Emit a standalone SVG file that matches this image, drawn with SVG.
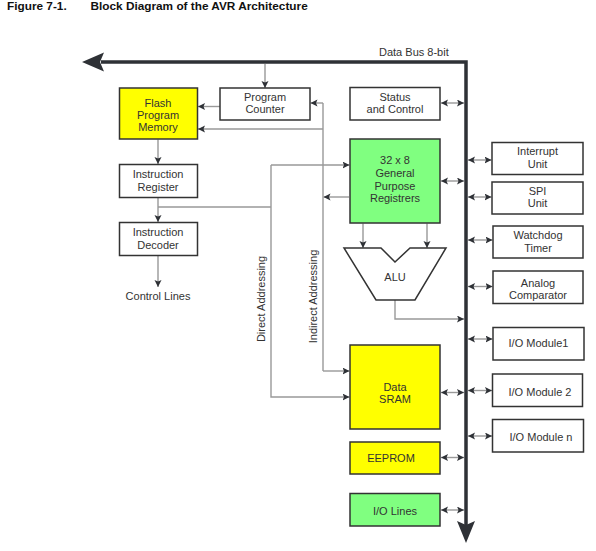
<svg xmlns="http://www.w3.org/2000/svg" width="596" height="551" viewBox="0 0 596 551">
<defs>
<marker id="ah" markerUnits="userSpaceOnUse" markerWidth="8" markerHeight="8" refX="7" refY="3.5" orient="auto-start-reverse">
<path d="M0,0 L7,3.5 L0,7 L1.5,3.5 Z" fill="#2e3136"/>
</marker>
</defs>
<style>
text{font-family:"Liberation Sans",Arial,sans-serif;font-size:11px;fill:#333;text-anchor:middle}
.title{font-weight:bold;font-size:11.8px;fill:#111;text-anchor:start}
.box{fill:#fff;stroke:#333;stroke-width:1.5}
.yel{fill:#ffff00}
.grn{fill:#80ff80}
.c{fill:none;stroke:#999;stroke-width:1.4}
.ce{fill:none;stroke:#999;stroke-width:1.4;marker-end:url(#ah)}
.cd{fill:none;stroke:#999;stroke-width:1.4;marker-start:url(#ah);marker-end:url(#ah)}
.bus{fill:none;stroke:#2e3136;stroke-width:3.5}
</style>
<rect width="596" height="551" fill="#fff"/>
<text class="title" x="7" y="9.5">Figure 7-1.</text>
<text class="title" x="90.5" y="9.5">Block Diagram of the AVR Architecture</text>

<g id="connectors">
<path class="ce" d="M265,64 L265,88"/>
<path class="ce" d="M220,106.5 L198,106.5"/>
<path class="ce" d="M349,197 L323.5,197"/>
<path class="c" d="M323,103 L323,371"/>
<path class="ce" d="M323,103 L310.5,103"/>
<path class="ce" d="M323,129 L198,129"/>
<path class="ce" d="M323,371 L349.5,371"/>
<path class="c" d="M158,207 L271,207"/>
<path class="ce" d="M271,165 L271,397 L349.5,397"/>
<path class="ce" d="M271,165 L349.5,165"/>
<path class="ce" d="M158,139.5 L158,164"/>
<path class="ce" d="M158,198 L158,222"/>
<path class="ce" d="M158,256 L158,287"/>
<path class="ce" d="M363,223.5 L363,248"/>
<path class="ce" d="M427,223.5 L427,248"/>
<path class="ce" d="M395,300 L395,319 L464,319"/>
<path class="cd" d="M441,103 L464,103"/>
<path class="cd" d="M441,181 L464,181"/>
<path class="cd" d="M441,392.5 L464,392.5"/>
<path class="cd" d="M441,457.5 L464,457.5"/>
<path class="cd" d="M441,510 L464,510"/>
<path class="cd" d="M468,160 L491.5,160"/>
<path class="cd" d="M468,197 L491.5,197"/>
<path class="cd" d="M468,240 L492.5,240"/>
<path class="cd" d="M468,286.5 L492.5,286.5"/>
<path class="cd" d="M468,339 L492.5,339"/>
<path class="cd" d="M468,390.5 L492,390.5"/>
<path class="cd" d="M468,436 L492,436"/>
</g>

<g id="databus">
<path class="bus" d="M101,62 L466,62 L466,525"/>
<path d="M82,62 L104,52.5 L100,62 L104,71.5 Z" fill="#2e3136"/>
<path d="M466,543 L457,521 L466,525 L475,521 Z" fill="#2e3136"/>
<text x="379" y="55.5" style="text-anchor:start">Data Bus 8-bit</text>
</g>

<g id="flash">
<rect class="box yel" x="119.5" y="88" width="78" height="51"/>
<text x="158" y="106.5">Flash</text>
<text x="158" y="118.5">Program</text>
<text x="158" y="131">Memory</text>
</g>
<g id="pc">
<rect class="box" x="220" y="88" width="90" height="32"/>
<text x="265" y="100.5">Program</text>
<text x="265" y="112.5">Counter</text>
</g>
<g id="status">
<rect class="box" x="350" y="87.5" width="90" height="32.5"/>
<text x="395" y="101">Status</text>
<text x="395" y="113">and Control</text>
</g>
<g id="registers">
<rect class="box grn" x="350" y="139" width="90" height="84"/>
<text x="395" y="164">32 x 8</text>
<text x="395" y="177">General</text>
<text x="395" y="189.5">Purpose</text>
<text x="395" y="202">Registrers</text>
</g>
<g id="ir">
<rect class="box" x="119.5" y="164.5" width="78" height="33"/>
<text x="158" y="177.5">Instruction</text>
<text x="158" y="190.5">Register</text>
</g>
<g id="id">
<rect class="box" x="119.5" y="222.5" width="78" height="33"/>
<text x="158" y="235.5">Instruction</text>
<text x="158" y="248.5">Decoder</text>
</g>
<g id="controllines">
<text x="158" y="299.5">Control Lines</text>
</g>
<g id="alu">
<polygon class="box" points="344,248 381,248 395,262 410,248 446,248 415,300 376,300"/>
<text x="395" y="281">ALU</text>
</g>
<g id="labels">
<text transform="translate(264.5,299) rotate(-90)">Direct Addressing</text>
<text transform="translate(316.5,296.5) rotate(-90)">Indirect Addressing</text>
</g>
<g id="sram">
<rect class="box yel" x="350" y="345" width="90" height="84"/>
<text x="395" y="390.5">Data</text>
<text x="395" y="403">SRAM</text>
</g>
<g id="eeprom">
<rect class="box yel" x="350" y="442" width="90" height="32"/>
<text x="391" y="462">EEPROM</text>
</g>
<g id="iolines">
<rect class="box grn" x="350" y="493.5" width="90" height="32.5"/>
<text x="395" y="515">I/O Lines</text>
</g>
<g id="interrupt">
<rect class="box" x="492" y="142.5" width="91" height="32"/>
<text x="537.5" y="154.5">Interrupt</text>
<text x="537.5" y="167.5">Unit</text>
</g>
<g id="spi">
<rect class="box" x="492" y="182" width="91" height="32"/>
<text x="537.5" y="194.5">SPI</text>
<text x="537.5" y="206.5">Unit</text>
</g>
<g id="watchdog">
<rect class="box" x="493" y="226" width="90" height="32"/>
<text x="538" y="239">Watchdog</text>
<text x="538" y="251.5">Timer</text>
</g>
<g id="analog">
<rect class="box" x="493" y="271" width="90" height="32.5"/>
<text x="538" y="287">Analog</text>
<text x="538" y="299">Comparator</text>
</g>
<g id="iom1">
<rect class="box" x="493" y="327.5" width="91" height="32.5"/>
<text x="538.5" y="347">I/O Module1</text>
</g>
<g id="iom2">
<rect class="box" x="492.5" y="374" width="90" height="32.5"/>
<text x="540" y="395.5">I/O Module 2</text>
</g>
<g id="iomn">
<rect class="box" x="492.5" y="419.5" width="91" height="32.5"/>
<text x="541" y="440.5">I/O Module n</text>
</g>
</svg>
